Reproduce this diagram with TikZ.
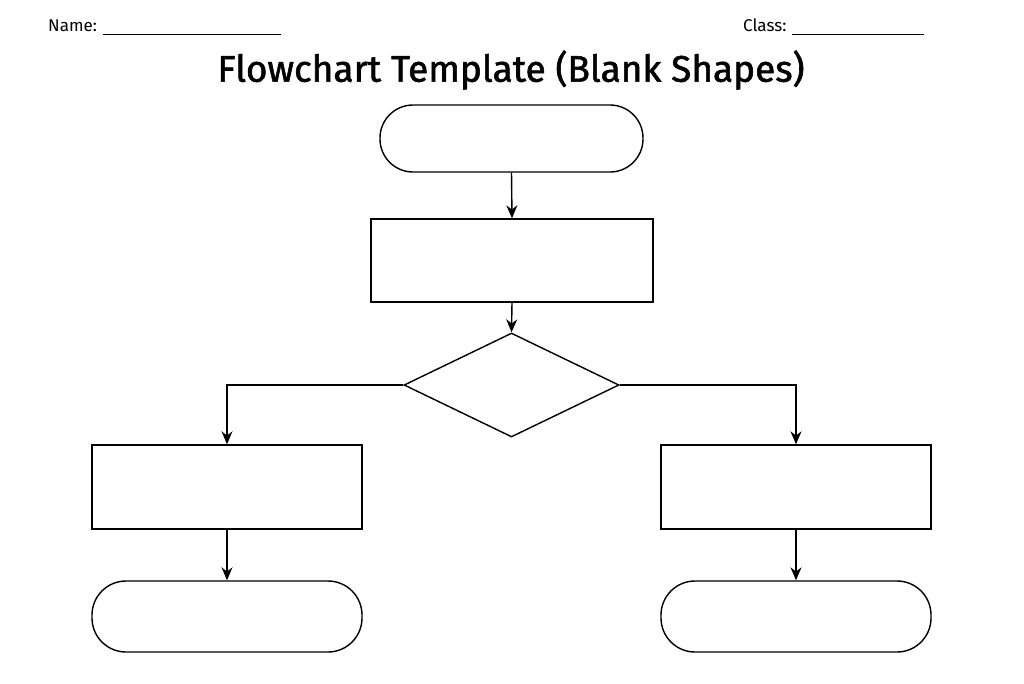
\documentclass[tikz,border=0pt]{standalone}
\usepackage{fontspec}
\setmainfont{Fira Sans}
\usetikzlibrary{shapes.geometric,arrows.meta}
\begin{document}
\begin{tikzpicture}[x=1pt,y=-1pt,
  box/.style={draw,line width=1.4pt,rectangle,inner sep=0pt},
  term/.style={box,rounded corners=33pt},
  arr/.style={line width=1.4pt,-{Stealth[length=13pt,width=11pt]}},
  lbl/.style={font=\fontsize{17}{19}\selectfont,anchor=west,inner sep=0pt}]
\useasboundingbox (0,0) rectangle (1024,683);
\node[lbl] (name) at (48,27) {Name: \rule[-3pt]{178pt}{0.8pt}};
\node[lbl] (class) at (743,27) {Class: \rule[-3pt]{132pt}{0.8pt}};
\node[font=\fontsize{37}{40}\selectfont\addfontfeature{FakeBold=1.5}] (title) at (511,70) {Flowchart Template (Blank Shapes)};
\node[term,minimum width=263pt,minimum height=67pt] (t1) at (511.5,138.5) {};
\node[box,minimum width=282pt,minimum height=83pt] (p1) at (512,260.5) {};
\node[draw,line width=1.4pt,diamond,inner sep=0pt,minimum width=215pt,minimum height=104pt] (d) at (511.5,385) {};
\node[box,minimum width=270pt,minimum height=84pt] (pl) at (227,487) {};
\node[box,minimum width=270pt,minimum height=84pt] (pr) at (796,487) {};
\node[term,minimum width=270pt,minimum height=71pt,rounded corners=34pt] (tl) at (227,616.5) {};
\node[term,minimum width=270pt,minimum height=71pt,rounded corners=34pt] (tr) at (796,616.5) {};
\draw[arr] (t1.south) -- (p1.north);
\draw[arr] (p1.south) -- (d.north);
\draw[arr] (d.west) -| (pl.north);
\draw[arr] (d.east) -| (pr.north);
\draw[arr] (pl.south) -- (tl.north);
\draw[arr] (pr.south) -- (tr.north);
\end{tikzpicture}
\end{document}
